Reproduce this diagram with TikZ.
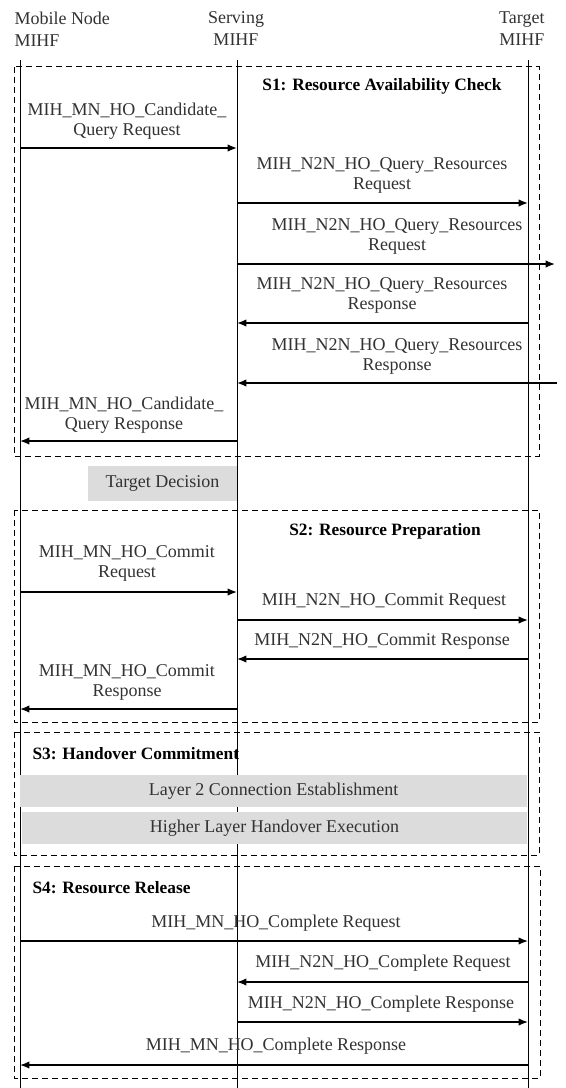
\documentclass[tikz,border=0pt]{standalone}
\usepackage{fontspec}
\setmainfont{Liberation Serif}
\usetikzlibrary{arrows.meta}
\definecolor{actgray}{RGB}{220,220,220}
\definecolor{txtgray}{RGB}{50,50,50}
\tikzset{every picture/.style={line width=0.75pt}}
\tikzset{
	phase/.style={dash pattern={on 4.5pt off 3pt}},
	msg/.style={line width=1pt,-{Latex[length=7pt,width=5.5pt]}},
	lbl/.style={align=center,text=txtgray,inner sep=0pt,font=\fontsize{13.5}{15}\selectfont},
	head/.style={text=txtgray,inner sep=0pt,font=\fontsize{13.5}{16.5}\selectfont},
	phasetitle/.style={inner sep=0pt,font=\bfseries\fontsize{13}{15}\selectfont},
	actbox/.style={fill=actgray,draw=none,inner sep=0pt,text=txtgray,font=\fontsize{13.5}{15}\selectfont}}

\begin{document}
\begin{tikzpicture}[x=0.75pt,y=0.75pt,yscale=-1,xscale=1]
	\path[use as bounding box] (0,0) rectangle (565,1088);

	%Dashed phase frames
	\draw[phase] (14,67) rectangle (539,456);
	\draw[phase] (14,510) rectangle (539,722);
	\draw[phase] (14,732) rectangle (539,855);
	\draw[phase] (14,866) rectangle (540,1078);

	% Target decision box
	\node[actbox,minimum width=111.75pt,minimum height=26.25pt] (td) at (162.5,483.5) {Target Decision};

	%Lifelines
	\coordinate (mnT) at (20,60); \coordinate (mnB) at (20,1088);
	\coordinate (svT) at (237,60); \coordinate (svB) at (237,1088);
	\coordinate (tgT) at (528,60); \coordinate (tgB) at (528,1088);
	\draw (mnT) -- (mnB);
	\draw (svT) -- (svB);
	\draw (tgT) -- (tgB);

	% Header nodes
	\node[head,anchor=west,align=left] (mn) at (14,29) {Mobile Node\\MIHF};
	\node[head,align=center] (sv) at (236,29) {Serving\\MIHF};
	\node[head,anchor=east,align=right] (tg) at (545,29) {Target\\MIHF};

	% Phase titles
	\node[phasetitle] (s1) at (382,86) {S1: Resource Availability Check};
	\node[phasetitle] (s2) at (385,531) {S2: Resource Preparation};
	\node[phasetitle,anchor=west] (s3) at (32,754) {S3: Handover Commitment};
	\node[phasetitle,anchor=west] (s4) at (32,888) {S4: Resource Release};

	% Handover execution boxes
	\node[actbox,minimum width=380.25pt,minimum height=24pt] (l2) at (273.5,791) {Layer 2 Connection Establishment};
	\node[actbox,minimum width=378.75pt,minimum height=24pt] (hl) at (274.5,828) {Higher Layer Handover Execution};

	%S1 messages
	\coordinate (q1a) at (20,148); \coordinate (q1b) at (237,148);
	\coordinate (q2a) at (237,203); \coordinate (q2b) at (528,203);
	\coordinate (q3a) at (237,264); \coordinate (q3b) at (555,264);
	\coordinate (q4a) at (528,323); \coordinate (q4b) at (237,323);
	\coordinate (q5a) at (557,383); \coordinate (q5b) at (237,383);
	\coordinate (q6a) at (237,441); \coordinate (q6b) at (20,441);
	\draw[msg] (q1a) -- (q1b);
	\draw[msg] (q2a) -- (q2b);
	\draw[msg] (q3a) -- (q3b);
	\draw[msg] (q4a) -- (q4b);
	\draw[msg] (q5a) -- (q5b);
	\draw[msg] (q6a) -- (q6b);
	\node[lbl] (q1l) at (127,121.5) {MIH\_MN\_HO\_Candidate\_\\Query Request};
	\node[lbl] (q2l) at (382,175.5) {MIH\_N2N\_HO\_Query\_Resources\\Request};
	\node[lbl] (q3l) at (397,236) {MIH\_N2N\_HO\_Query\_Resources\\Request};
	\node[lbl] (q4l) at (382,295.5) {MIH\_N2N\_HO\_Query\_Resources\\Response};
	\node[lbl] (q5l) at (397,356.5) {MIH\_N2N\_HO\_Query\_Resources\\Response};
	\node[lbl] (q6l) at (124,415) {MIH\_MN\_HO\_Candidate\_\\Query Response};

	%S2 messages
	\coordinate (c1a) at (20,592); \coordinate (c1b) at (237,592);
	\coordinate (c2a) at (237,620); \coordinate (c2b) at (528,620);
	\coordinate (c3a) at (528,659); \coordinate (c3b) at (237,659);
	\coordinate (c4a) at (237,709); \coordinate (c4b) at (20,709);
	\draw[msg] (c1a) -- (c1b);
	\draw[msg] (c2a) -- (c2b);
	\draw[msg] (c3a) -- (c3b);
	\draw[msg] (c4a) -- (c4b);
	\node[lbl] (c1l) at (127,563.5) {MIH\_MN\_HO\_Commit\\Request};
	\node[lbl] (c2l) at (384,601) {MIH\_N2N\_HO\_Commit Request};
	\node[lbl] (c3l) at (382,641) {MIH\_N2N\_HO\_Commit Response};
	\node[lbl] (c4l) at (127,682) {MIH\_MN\_HO\_Commit\\Response};

	%S4 messages
	\coordinate (r1a) at (20,941); \coordinate (r1b) at (528,941);
	\coordinate (r2a) at (528,982); \coordinate (r2b) at (237,982);
	\coordinate (r3a) at (237,1022); \coordinate (r3b) at (528,1022);
	\coordinate (r4a) at (528,1065); \coordinate (r4b) at (20,1065);
	\draw[msg] (r1a) -- (r1b);
	\draw[msg] (r2a) -- (r2b);
	\draw[msg] (r3a) -- (r3b);
	\draw[msg] (r4a) -- (r4b);
	\node[lbl] (r1l) at (276,923) {MIH\_MN\_HO\_Complete Request};
	\node[lbl] (r2l) at (383,963) {MIH\_N2N\_HO\_Complete Request};
	\node[lbl] (r3l) at (381,1004) {MIH\_N2N\_HO\_Complete Response};
	\node[lbl] (r4l) at (276,1046) {MIH\_MN\_HO\_Complete Response};

\end{tikzpicture}
\end{document}
